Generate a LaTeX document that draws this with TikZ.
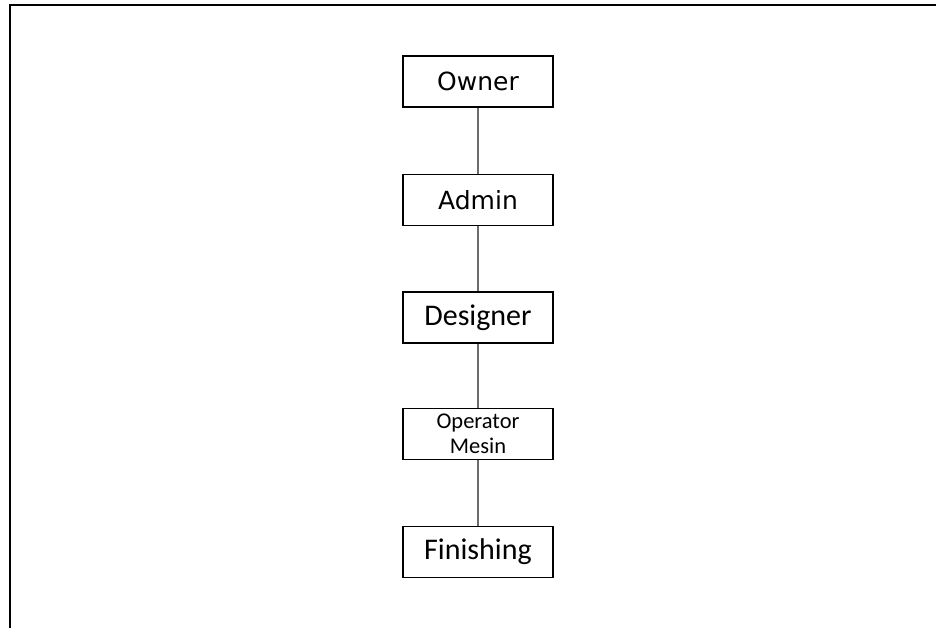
\documentclass[tikz,border=0pt]{standalone}
\usepackage{fontspec}
\setmainfont{Carlito}
\newfontfamily\dvsfont{DejaVu Sans}
\newfontfamily\calfont{Carlito}
\begin{document}
\begin{tikzpicture}[x=1pt,y=-1pt,
  box/.style={draw=black, line width=1.6pt, minimum width=150pt, minimum height=51pt, inner sep=0pt, align=center},
  link/.style={draw=gray!85!black, line width=1.1pt},
  frameline/.style={draw=black, line width=2pt}]
\useasboundingbox (0,0) rectangle (936,627);
\coordinate (tl) at (10,5);
\coordinate (tr) at (937,5);
\coordinate (bl) at (10,628);
\draw[frameline] (bl) -- (tl) -- (tr);
\node[box, font={\dvsfont\fontsize{25}{30}\selectfont}] (owner) at (478,81.5) {Owner};
\node[box, font={\dvsfont\fontsize{25}{30}\selectfont}] (admin) at (478,200) {Admin};
\node[box, font={\calfont\fontsize{30}{36}\selectfont}] (designer) at (478,317.5) {Designer};
\node[box, font={\calfont\fontsize{22.5}{25}\selectfont}] (operator) at (478,434) {Operator\\Mesin};
\node[box, font={\calfont\fontsize{30}{36}\selectfont}] (finishing) at (478,552) {Finishing};
\draw[link] (owner) -- (admin);
\draw[link] (admin) -- (designer);
\draw[link] (designer) -- (operator);
\draw[link] (operator) -- (finishing);
\end{tikzpicture}
\end{document}
